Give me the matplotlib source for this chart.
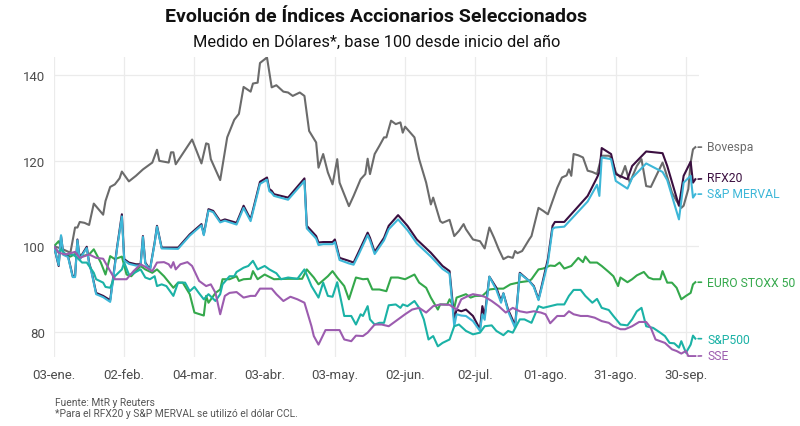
import numpy as np
import matplotlib
matplotlib.use("Agg")
import matplotlib.pyplot as plt

plt.rcParams['font.family'] = ['Roboto', 'DejaVu Sans']

# Datos: días desde el 03-ene-2022 y valor (base 100)
dias_bovespa = [0, 3, 7, 9, 10, 11, 13, 15, 17, 21, 22, 24, 26, 28, 29, 32, 35, 38, 40, 42,
                44, 45, 49, 50, 51, 52, 59, 63, 65, 66, 67, 71, 74, 77, 79, 81, 84, 85, 87, 88,
                91, 93, 95, 98, 100, 102, 105, 107, 109, 112, 113, 115, 117, 119, 121, 122, 126, 128, 131, 133,
                134, 135, 137, 139, 141, 142, 144, 146, 148, 149, 150, 154, 156, 159, 161, 162, 165, 166, 169, 171,
                173, 175, 176, 179, 182, 184, 186, 188, 190, 192, 194, 196, 197, 198, 200, 203, 204, 207, 209, 211,
                214, 215, 217, 219, 220, 221, 222, 224, 226, 228, 230, 232, 234, 237, 238, 240, 242, 243, 244, 246,
                249, 251, 252, 253, 255, 258, 260, 261, 264, 266, 268, 269, 271, 272, 273, 274]
bovespa = [100, 99.5, 98.5, 104.4, 104.4, 105.7, 105.5, 105, 110, 107.4, 110.6, 113.9, 114.5, 115.9, 117.5, 115.2, 116.5, 118, 118.8, 119.6,
           122.6, 120, 119.6, 122, 122, 119.2, 125, 119.4, 124.1, 123.9, 120.4, 115.5, 125.5, 129.6, 131, 137.3, 136.2, 138.1, 138.3, 142.9,
           144.2, 137.2, 137.7, 136.2, 136, 135.2, 136, 135.2, 127, 124.3, 118.4, 121.6, 117.3, 114.5, 120.4, 114.9, 109.4, 111.8, 115.7, 116.9,
           120.5, 116.9, 121.6, 123.5, 125.5, 125.5, 129.4, 128.6, 129, 126.6, 128, 125.5, 120.4, 114.9, 109.8, 111.4, 105.9, 105.5, 106.2, 102.4,
           103.6, 105.2, 104, 101.6, 101.2, 99.5, 104.4, 102, 99.3, 97, 97.6, 97.3, 98.9, 98.4, 98.9, 101.6, 102.4, 109, 108.3, 107.5,
           112.2, 113.7, 116.1, 116.6, 118, 116.5, 121.6, 121.3, 120.8, 117.7, 117.4, 116.9, 121.2, 121.2, 120.8, 117.3, 116.1, 117.3, 118.8, 114.9,
           118.8, 120.4, 117.3, 114.1, 113.9, 117.3, 119.6, 118, 112.6, 110.6, 109, 109.5, 113.4, 119.6, 122.7, 123.2]

dias_rfx = [0, 2, 3, 4, 6, 8, 9, 10, 11, 12, 14, 15, 16, 18, 21, 24, 27, 29, 30, 32,
            35, 37, 38, 39, 41, 43, 44, 46, 53, 58, 63, 64, 66, 68, 71, 73, 78, 81, 84, 88,
            91, 92, 93, 94, 100, 107, 108, 112, 113, 115, 119, 120, 122, 126, 128, 130, 134, 135, 137, 141,
            143, 147, 151, 155, 161, 166, 169, 171, 172, 174, 176, 179, 182, 183, 184, 186, 189, 191, 192, 194,
            197, 199, 203, 205, 207, 208, 211, 213, 214, 218, 228, 232, 233, 234, 238, 240, 245, 247, 253, 260,
            262, 267, 269, 272, 273, 274]
rfx20 = [100, 95.4, 102.4, 98.1, 97.7, 93, 93, 101.6, 97, 98.1, 99.9, 96.2, 94.2, 89.1, 88.4, 87.4, 100, 107.5, 97, 96.2,
         95.8, 95.8, 102.4, 96.2, 94.6, 100.9, 104.8, 99.7, 99.7, 102.8, 105.2, 102.8, 108.7, 108.3, 105.9, 106.3, 105.5, 109.5, 106.3, 115.1,
         116.1, 113.4, 113, 112.2, 111.4, 115.9, 104.8, 102.4, 100.9, 101, 101, 101.6, 97.3, 96.6, 96.2, 98.5, 103.2, 102, 98.7, 102,
         104.8, 107.3, 104.8, 101.6, 98.5, 95.4, 94.2, 82.9, 85.2, 84.8, 85.2, 83.7, 80.6, 86, 83.7, 92.9, 90.3, 87.2, 89, 85.2,
         81.5, 93.8, 91.9, 90.7, 87.6, 89.9, 97, 104.8, 105.7, 105.7, 111.8, 116.1, 117.3, 123, 121.6, 116.9, 115.7, 118.8, 122.2, 121.8,
         118.8, 109.5, 116.5, 119.8, 114.9, 115.7]
merval = [100, 95.6, 102.6, 98, 97.5, 92.8, 92.8, 101.4, 96.8, 97.9, 99.6, 96, 94, 88.8, 88.1, 87, 99.7, 107, 96.7, 95.9,
          95.5, 95.5, 102.2, 96, 94.4, 100.7, 104.6, 99.5, 99.4, 102.5, 104.9, 102.6, 108.4, 108, 105.6, 106, 105.1, 109, 105.9, 114.6,
          115.6, 112.9, 112.5, 111.8, 110.9, 115.3, 104.2, 101.8, 100.3, 100.5, 100.5, 101, 96.8, 96, 95.7, 97.9, 102.6, 101.4, 98.2, 101.4,
          104, 106.3, 103.8, 100.7, 97.6, 94.7, 93.6, 81.3, 84.1, 83.8, 83.7, 82.5, 80.2, 84.1, 82.8, 92.9, 89.8, 86.8, 89, 84.8,
          80.9, 93.6, 91.9, 90.5, 87.4, 89.5, 96.2, 104.1, 104.4, 104.6, 110.5, 114.4, 111.8, 120.8, 120.4, 115.3, 113.5, 116, 119.4, 117.4,
          115.5, 106.3, 114.9, 116.5, 111.4, 112.2]

dias_euro = [0, 2, 4, 7, 10, 12, 15, 17, 20, 22, 24, 26, 29, 31, 33, 37, 39, 42, 44, 47,
             51, 53, 55, 58, 60, 64, 65, 66, 69, 71, 72, 75, 78, 79, 81, 84, 85, 87, 90, 94,
             100, 106, 108, 111, 113, 117, 119, 121, 124, 126, 129, 132, 134, 136, 139, 142, 144, 147, 150, 154,
             156, 159, 161, 164, 165, 168, 169, 171, 172, 176, 178, 180, 183, 186, 189, 192, 195, 199, 203, 204,
             207, 209, 212, 214, 216, 218, 221, 224, 226, 227, 229, 232, 234, 237, 239, 241, 242, 245, 247, 249,
             252, 254, 256, 259, 260, 262, 264, 266, 268, 270, 272, 273, 274]
euro_stoxx = [100, 101.2, 98.4, 97.6, 98.5, 97.7, 98.1, 99.3, 96.2, 93.4, 97.7, 97, 97.6, 93.4, 93, 95.4, 94.6, 93.8, 94.6, 93,
              90.3, 91.5, 91.5, 88.8, 84.5, 83.8, 88.4, 86.8, 89.1, 89.9, 92.3, 92.3, 93, 91.9, 92.3, 92.4, 94.2, 92.3, 93.4, 92.3,
              92.4, 92.4, 94.6, 92.7, 91.1, 93, 94.2, 92.7, 90.7, 87.6, 92.7, 92.3, 92.4, 89.9, 89.9, 89.5, 92.7, 92.7, 92.3, 93.4,
              91.5, 90.3, 88, 85.2, 86.4, 86.4, 87.6, 85.6, 88, 88.8, 88, 88.4, 88.4, 89.9, 90.1, 90.1, 91.1, 91.6, 91.9, 92.3,
              94.6, 94.8, 95.5, 95.4, 96.2, 94.8, 95.4, 97.3, 96.3, 97.6, 96.2, 96.2, 95.4, 94, 93, 90.7, 92.7, 91.6, 92.3, 93.2,
              94, 92.7, 92.3, 92.3, 94.2, 91.5, 91.5, 90.3, 87.6, 88.4, 89.1, 91.1, 91.6]

dias_sp500 = [0, 2, 3, 5, 8, 10, 12, 14, 17, 18, 21, 22, 24, 26, 29, 30, 32, 33, 37, 39,
              41, 43, 44, 46, 48, 51, 53, 56, 58, 60, 62, 64, 66, 69, 71, 72, 75, 77, 78, 81,
              83, 85, 87, 90, 92, 95, 97, 100, 104, 107, 110, 113, 115, 117, 119, 121, 123, 124, 127, 129,
              131, 132, 134, 135, 137, 139, 141, 143, 146, 148, 149, 151, 154, 156, 158, 160, 162, 164, 166, 169,
              171, 173, 176, 179, 182, 184, 187, 189, 192, 194, 196, 199, 201, 204, 207, 209, 212, 215, 218, 220,
              222, 225, 227, 230, 232, 234, 237, 239, 242, 245, 247, 249, 251, 253, 256, 259, 261, 263, 265, 267,
              268, 270, 272, 273, 274]
sp500 = [100, 98.5, 99.3, 98.1, 98.1, 97.3, 96.2, 96.2, 93.8, 92.3, 91.5, 90.5, 90.3, 93, 94.6, 96.2, 93.4, 93.4, 94.6, 92.7,
         92.3, 93, 90.7, 91.1, 90.7, 88.4, 91.5, 91.5, 89.5, 90.5, 89, 87.6, 88.8, 87.2, 88.8, 91.1, 93, 93, 94, 95,
         95.4, 96.6, 94.6, 95.4, 94.6, 93.7, 92.3, 92.7, 92.4, 94.6, 90.7, 88, 91.5, 88.4, 88.2, 91.6, 86.4, 83.7, 83.7, 81.7,
         84.1, 83.7, 86, 82.9, 81.7, 82.1, 82.1, 86.2, 86.4, 85.6, 86.4, 86, 87.2, 85.6, 82.9, 78.2, 79, 76.6, 77.4, 78.2,
         81.3, 81.7, 80.2, 79.4, 79.8, 81.3, 81.5, 80.2, 79.2, 80.2, 79.8, 82.9, 82.9, 82.1, 86, 85.6, 86, 86.4, 86.4, 88.4,
         89.8, 89.8, 88.4, 86.8, 87.7, 85.6, 85.1, 83.7, 81.7, 81.5, 82.9, 84.8, 85.6, 81.3, 80.9, 79.8, 79, 77.4, 77.3, 76.3,
         77.8, 75.1, 77, 79.1, 78.4]

dias_sse = [0, 2, 5, 9, 11, 15, 18, 21, 24, 26, 28, 31, 34, 37, 39, 42, 44, 47, 49, 50,
            51, 52, 54, 57, 59, 62, 65, 67, 69, 71, 73, 75, 78, 81, 84, 86, 88, 93, 95, 98,
            101, 104, 107, 110, 111, 113, 116, 118, 122, 124, 127, 129, 132, 134, 137, 140, 143, 147, 150, 153,
            156, 159, 162, 165, 169, 172, 174, 177, 179, 182, 184, 187, 190, 193, 196, 199, 202, 205, 208, 210,
            212, 215, 218, 220, 222, 225, 228, 231, 234, 237, 239, 242, 244, 247, 250, 253, 255, 257, 261, 264,
            266, 268, 270, 271, 274]
sse = [100, 98.5, 98.1, 98.7, 97.3, 98.1, 97.3, 97.1, 94.2, 92.3, 92.3, 92.3, 94.2, 95.8, 95.2, 94.2, 96.2, 96.3, 95.8, 95,
       96.3, 94.6, 95.8, 96.3, 95.4, 91.9, 90.7, 91.1, 89.1, 84.1, 88.4, 89.1, 89.3, 88, 88.4, 88.4, 90.1, 90.1, 88.8, 87.2,
       88.2, 87.6, 86.8, 81.3, 79, 77, 80.4, 80.4, 80.4, 78.2, 77.8, 79.1, 79, 79.8, 81.7, 81.7, 81.3, 82.9, 84.1, 85.2,
       85.6, 84.5, 86, 86.4, 86.3, 85.2, 87.6, 88.4, 88.8, 88.5, 88.2, 87.2, 86, 84.5, 85.6, 84.8, 84.5, 84.8, 84.5, 84.1,
       82, 83.7, 83.7, 84.8, 84.1, 83.7, 83.7, 83.3, 82.5, 82.1, 81.3, 80.6, 80.6, 81.3, 82.3, 82.3, 80.9, 78.2, 77.4, 75.9,
       75.5, 74.9, 75.5, 74.3, 74.3]

etiquetas_x = ['03-ene.', '02-feb.', '04-mar.', '03-abr.', '03-may.',
               '02-jun.', '02-jul.', '01-ago.', '31-ago.', '30-sep.']

inicio = np.datetime64('2022-01-03')


def fechas(dias):
    return inicio + np.array(dias).astype('timedelta64[D]')


# (nombre, dias, valores, color, posición y de la etiqueta)
series = [
    ('Bovespa', dias_bovespa, bovespa, '#6b6b6b', 123.3),
    ('EURO STOXX 50', dias_euro, euro_stoxx, '#34a84b', 91.6),
    ('RFX20', dias_rfx, rfx20, '#3b0f40', 116.1),
    ('S&P MERVAL', dias_rfx, merval, '#3db7d8', 112.4),
    ('S&P500', dias_sp500, sp500, '#1bb2a6', 78.3),
    ('SSE', dias_sse, sse, '#9c5caf', 74.5),
]

fig = plt.figure(figsize=(8, 4.27), dpi=100)
ax = fig.add_axes([0.0675, 0.1616, 0.8063, 0.7025])

for nombre, dias, valores, color, y_lab in series:
    x = fechas(dias)
    ax.plot(x, valores, color=color, lw=1.5, solid_joinstyle='round')
    ax.annotate(nombre, xy=(x[-1], valores[-1]),
                xytext=(inicio + np.timedelta64(279, 'D'), y_lab),
                textcoords='data', ha='left', va='center', fontsize=8.7, color=color,
                annotation_clip=False,
                arrowprops=dict(arrowstyle='-', color=color, lw=1.2, shrinkA=2, shrinkB=2))

ax.set_xlim(inicio, inicio + np.timedelta64(24 * 275 + 14, 'h'))
ax.set_ylim(74.1, 144.3)

ax.set_xticks(inicio + np.arange(0, 271, 30).astype('timedelta64[D]'))
ax.set_xticklabels(etiquetas_x)
ax.set_yticks([80, 100, 120, 140])

ax.grid(True, color='#ebebeb', lw=0.9)
ax.set_axisbelow(True)
for s in ax.spines.values():
    s.set_visible(False)
ax.tick_params(length=0, labelsize=9.5, colors='#4d4d4d', pad=6)
ax.tick_params(axis='x', pad=8)

fig.text(0.4706, 0.960, 'Evolución de Índices Accionarios Seleccionados',
         ha='center', va='center', fontsize=14, fontweight='bold', color='#111111')
fig.text(0.4706, 0.902, 'Medido en Dólares*, base 100 desde inicio del año',
         ha='center', va='center', fontsize=11.8, color='#111111')
fig.text(0.069, 0.056, 'Fuente: MtR y Reuters', ha='left', va='center',
         fontsize=7.4, color='#555555')
fig.text(0.069, 0.030, '*Para el RFX20 y S&P MERVAL se utilizó el dólar CCL.',
         ha='left', va='center', fontsize=7.4, color='#555555')

fig.savefig('out.png', dpi=100)
